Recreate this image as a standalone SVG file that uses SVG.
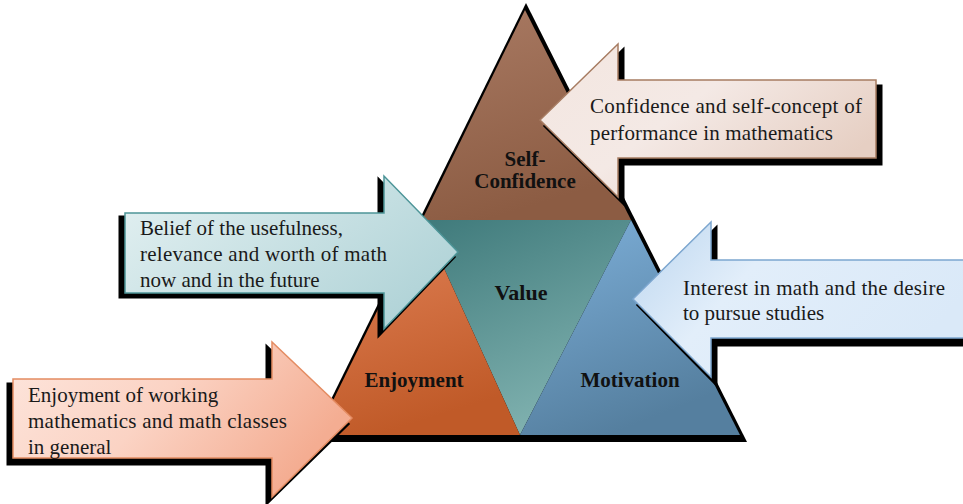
<svg xmlns="http://www.w3.org/2000/svg" width="963" height="504" viewBox="0 0 963 504">
<defs>
<linearGradient id="gSelf" x1="0" y1="0" x2="0.3" y2="1"><stop offset="0" stop-color="#a97a63"/><stop offset="1" stop-color="#8c5c43"/></linearGradient>
<linearGradient id="gValue" x1="0" y1="0" x2="0.4" y2="1"><stop offset="0" stop-color="#3f7a7b"/><stop offset="1" stop-color="#7eb0ae"/></linearGradient>
<linearGradient id="gEnjoy" x1="0" y1="0" x2="0.3" y2="1"><stop offset="0" stop-color="#e3845a"/><stop offset="1" stop-color="#c05a28"/></linearGradient>
<linearGradient id="gMotiv" x1="0" y1="0" x2="0.4" y2="1"><stop offset="0" stop-color="#7eb0da"/><stop offset="1" stop-color="#557f9f"/></linearGradient>
<linearGradient id="aConf" x1="0" y1="0" x2="1" y2="0.6"><stop offset="0" stop-color="#f3e6e0"/><stop offset="0.5" stop-color="#f4e9e5"/><stop offset="1" stop-color="#e6cfc3"/></linearGradient>
<linearGradient id="aBelief" x1="0" y1="0" x2="1" y2="0.6"><stop offset="0" stop-color="#e4f1f2"/><stop offset="1" stop-color="#b2d4d8"/></linearGradient>
<linearGradient id="aInt" x1="0" y1="0" x2="1" y2="0.4"><stop offset="0" stop-color="#bcd6ef"/><stop offset="0.4" stop-color="#e2eefa"/><stop offset="1" stop-color="#dae9f8"/></linearGradient>
<linearGradient id="aEnj" x1="0" y1="0" x2="1" y2="0.4"><stop offset="0" stop-color="#fde6dd"/><stop offset="0.5" stop-color="#fbd3c4"/><stop offset="1" stop-color="#f4ad92"/></linearGradient>
</defs>
<style>
.shadow{fill:#000}
.tri{stroke:none}
.lbl{font-family:"Liberation Serif","Times New Roman",serif;font-weight:bold;font-size:21px;fill:#111;text-anchor:middle}
.txt{font-family:"Liberation Serif","Times New Roman",serif;font-size:21px;fill:#1a1a1a}
</style>
<rect width="963" height="504" fill="#fff"/>

<polygon class="shadow" points="526,3 310,442 747,442"/>

<g id="node-selfconfidence">
<polygon class="tri" fill="url(#gSelf)" points="525,10 422,220 631,220"/>
<text class="lbl" x="525" y="166">Self-</text>
<text class="lbl" x="525" y="188">Confidence</text>
</g>
<g id="node-value">
<polygon class="tri" fill="url(#gValue)" points="422,220 631,220 520,435"/>
<text class="lbl" x="521" y="300" style="font-size:22px">Value</text>
</g>
<g id="node-enjoyment">
<polygon class="tri" fill="url(#gEnjoy)" points="422,220 316,435 520,435"/>
<text class="lbl" x="414" y="387">Enjoyment</text>
</g>
<g id="node-motivation">
<polygon class="tri" fill="url(#gMotiv)" points="631,220 520,435 740,435"/>
<text class="lbl" x="630" y="387">Motivation</text>
</g>

<g id="connectors">
<g id="arrow-confidence">
<path class="shadow" stroke="#000" stroke-width="3" d="M545,126 L623,50 L623,86 L881,86 L881,164 L623,164 L623,203 Z"/>
<path fill="url(#aConf)" stroke="#a77c62" stroke-width="1.5" d="M540,120 L618,44 L618,80 L876,80 L876,158 L618,158 L618,197 Z"/>
<text class="txt" x="590" y="113" textLength="272" lengthAdjust="spacing">Confidence and self-concept of</text>
<text class="txt" x="590" y="140" textLength="243" lengthAdjust="spacing">performance in mathematics</text>
</g>
<g id="arrow-belief">
<path class="shadow" stroke="#000" stroke-width="3" d="M120,217 L379,217 L379,180 L454,257 L379,335 L379,297 L120,297 Z"/>
<path fill="url(#aBelief)" stroke="#4d9598" stroke-width="1.5" d="M125,213 L384,213 L384,176 L458,252 L384,329 L384,293 L125,293 Z"/>
<text class="txt" x="140" y="235">Belief of the usefulness,</text>
<text class="txt" x="140" y="261" textLength="247" lengthAdjust="spacing">relevance and worth of math</text>
<text class="txt" x="140" y="287">now and in the future</text>
</g>
<g id="arrow-interest">
<path class="shadow" stroke="#000" stroke-width="3" d="M638,305 L716,228 L716,265 L975,265 L975,345 L716,345 L716,384 Z"/>
<path fill="url(#aInt)" stroke="#7ca6cf" stroke-width="1.5" d="M633,299 L711,222 L711,260 L975,260 L975,338 L711,338 L711,377 Z"/>
<text class="txt" x="683" y="295" textLength="262" lengthAdjust="spacing">Interest in math and the desire</text>
<text class="txt" x="683" y="320">to pursue studies</text>
</g>
<g id="arrow-enjoyment">
<path class="shadow" stroke="#000" stroke-width="3" d="M8,384 L267,384 L267,347 L348,424 L267,503 L267,464 L8,464 Z"/>
<path fill="url(#aEnj)" stroke="#e48c62" stroke-width="1.5" d="M13,379 L272,379 L272,342 L352,418 L272,497 L272,458 L13,458 Z"/>
<text class="txt" x="28" y="402">Enjoyment of working</text>
<text class="txt" x="28" y="428" textLength="259" lengthAdjust="spacing">mathematics and math classes</text>
<text class="txt" x="28" y="454">in general</text>
</g>
</g>
</svg>
